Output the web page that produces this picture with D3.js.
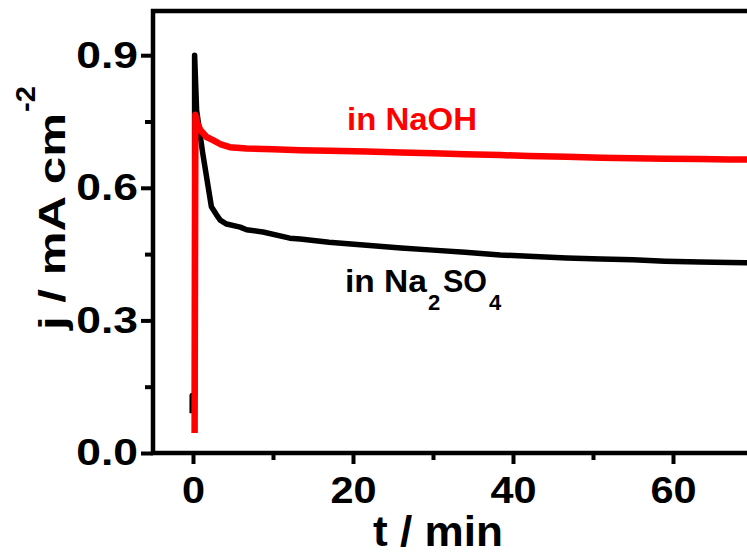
<!DOCTYPE html>
<html>
<head>
<meta charset="utf-8">
<script src="https://cdn.jsdelivr.net/npm/d3@7"></script>
<style>
	body { margin: 0; background: #fff; }
	svg { display: block; font-family: "Liberation Sans", Arial, sans-serif; font-weight: bold; }
</style>
</head>
<body>
<div id="chart"></div>
<script>
// time (min) and current density (mA cm-2)
var naso4T = [-0.1, -0.1, 0.2, 0.2, 0.45, 1.2, 2.3, 2.9, 3.4, 4.2, 5.9, 6.7, 8.75, 12.1, 13.4, 17, 21.7, 26, 30, 34, 38.4, 42, 46.7, 51, 55, 59, 63.4, 67, 70];
var naso4J = [0.09, 0.13, 0.13, 0.9, 0.775, 0.68, 0.557, 0.54, 0.527, 0.518, 0.511, 0.505, 0.5, 0.486, 0.484, 0.477, 0.47, 0.464, 0.459, 0.454, 0.448, 0.445, 0.441, 0.439, 0.437, 0.434, 0.432, 0.431, 0.43];

var naohT = [0.2, 0.3, 0.5, 0.9, 1.7, 2.5, 3.5, 4.6, 6.7, 10, 13.4, 17, 21.7, 26, 30, 34, 38.4, 42, 46.7, 51, 55, 59, 63.4, 67, 70];
var naohJ = [0.045, 0.765, 0.748, 0.731, 0.715, 0.708, 0.698, 0.692, 0.689, 0.687, 0.685, 0.684, 0.682, 0.68, 0.678, 0.676, 0.674, 0.672, 0.67, 0.668, 0.667, 0.666, 0.665, 0.664, 0.664];

var xTicks = [0, 20, 40, 60];
var xMinor = [10, 30, 50];
var yTicks = [0.0, 0.3, 0.6, 0.9];
var yMinor = [0.15, 0.45, 0.75];

function draw() {
	var width = 747, height = 556;
	var mLeft = 153, mRight = 753, mTop = 11, mBottom = 453;

	var svg = d3.select("#chart").append("svg")
		.attr("width", width)
		.attr("height", height);

	var x = d3.scaleLinear().domain([-5, 70]).range([mLeft, mRight]);
	var y = d3.scaleLinear().domain([0, 1.0]).range([mBottom, mTop]);

	// curves
	var line = d3.line()
		.x(function (d) { return x(d[0]); })
		.y(function (d) { return y(d[1]); });

	svg.append("path")
		.attr("d", line(d3.zip(naso4T, naso4J)))
		.attr("fill", "none")
		.attr("stroke", "#000")
		.attr("stroke-width", 5.5)
		.attr("stroke-linejoin", "round");

	svg.append("path")
		.attr("d", line(d3.zip(naohT, naohJ)))
		.attr("fill", "none")
		.attr("stroke", "#ff0000")
		.attr("stroke-width", 6.5)
		.attr("stroke-linejoin", "round");

	// minor ticks
	svg.append("g")
		.attr("transform", "translate(0," + mBottom + ")")
		.call(d3.axisBottom(x).tickValues(xMinor).tickSize(7).tickFormat(""))
		.call(function (g) { g.select(".domain").remove(); })
		.selectAll("line").attr("stroke-width", 4);

	svg.append("g")
		.attr("transform", "translate(" + mLeft + ",0)")
		.call(d3.axisLeft(y).tickValues(yMinor).tickSize(8).tickFormat(""))
		.call(function (g) { g.select(".domain").remove(); })
		.selectAll("line").attr("stroke-width", 4);

	// major ticks and labels
	var gx = svg.append("g")
		.attr("transform", "translate(0," + mBottom + ")")
		.call(d3.axisBottom(x).tickValues(xTicks).tickSize(11).tickFormat(d3.format("d")));
	gx.select(".domain").remove();
	gx.selectAll("line").attr("stroke-width", 4);
	gx.selectAll("text")
		.attr("y", 50)
		.attr("dy", null)
		.attr("fill", "#000")
		.style("font-size", "37px")
		.each(function () {
			var w = this.getComputedTextLength();
			d3.select(this).attr("textLength", w * 1.12).attr("lengthAdjust", "spacingAndGlyphs");
		});

	var gy = svg.append("g")
		.attr("transform", "translate(" + mLeft + ",0)")
		.call(d3.axisLeft(y).tickValues(yTicks).tickSize(12).tickFormat(d3.format(".1f")));
	gy.select(".domain").remove();
	gy.selectAll("line").attr("stroke-width", 4);
	gy.selectAll("text")
		.attr("x", -15)
		.attr("dy", "0.32em")
		.attr("fill", "#000")
		.style("font-size", "37px")
		.each(function () {
			var w = this.getComputedTextLength();
			d3.select(this).attr("textLength", w * 1.2).attr("lengthAdjust", "spacingAndGlyphs");
		});

	// frame
	svg.append("rect")
		.attr("x", mLeft)
		.attr("y", mTop)
		.attr("width", mRight - mLeft)
		.attr("height", mBottom - mTop)
		.attr("fill", "none")
		.attr("stroke", "#000")
		.attr("stroke-width", 4.5);

	// axis titles
	svg.append("text")
		.attr("x", 373)
		.attr("y", 546)
		.attr("textLength", 130)
		.attr("lengthAdjust", "spacingAndGlyphs")
		.style("font-size", "43px")
		.text("t / min");

	svg.append("text")
		.attr("transform", "translate(65,330) rotate(-90)")
		.attr("textLength", 217)
		.attr("lengthAdjust", "spacingAndGlyphs")
		.style("font-size", "37px")
		.text("j / mA cm");

	svg.append("text")
		.attr("transform", "translate(35,112) rotate(-90)")
		.attr("textLength", 26)
		.attr("lengthAdjust", "spacingAndGlyphs")
		.style("font-size", "27px")
		.text("-2");

	// labels on the curves
	svg.append("text")
		.attr("x", 347)
		.attr("y", 130)
		.attr("fill", "#ff0000")
		.attr("textLength", 130)
		.attr("lengthAdjust", "spacingAndGlyphs")
		.style("font-size", "31px")
		.text("in NaOH");

	var lab = svg.append("text").style("font-size", "31px").attr("fill", "#000");
	lab.append("tspan").attr("x", 345).attr("y", 292)
		.attr("textLength", 82).attr("lengthAdjust", "spacingAndGlyphs").text("in Na");
	lab.append("tspan").attr("x", 428).attr("y", 310).style("font-size", "22px").text("2");
	lab.append("tspan").attr("x", 443).attr("y", 292)
		.attr("textLength", 44).attr("lengthAdjust", "spacingAndGlyphs").text("SO");
	lab.append("tspan").attr("x", 489).attr("y", 310).style("font-size", "22px").text("4");
}

draw();
</script>
</body>
</html>
